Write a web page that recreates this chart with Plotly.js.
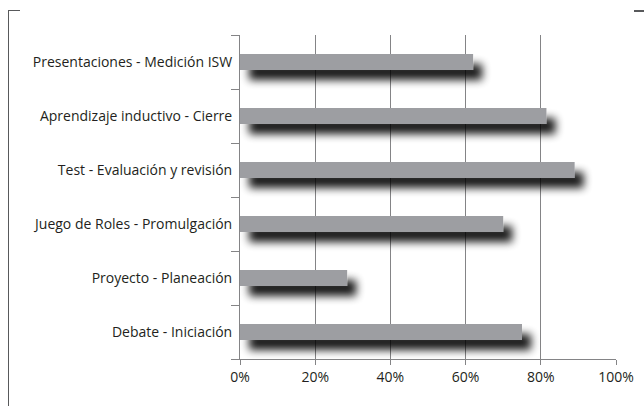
<!DOCTYPE html>
<html>
<head>
<meta charset="utf-8">
<script src="https://cdn.plot.ly/plotly-3.0.1.min.js"></script>
<style>
  html, body { margin: 0; padding: 0; background: #fff; overflow: hidden; }
  #wrap { position: relative; width: 644px; height: 406px; overflow: hidden; }
  #chart { position: absolute; left: 0; top: 0; width: 644px; height: 406px; }
  .frame { position: absolute; background: #58595b; z-index: 5; }
</style>
</head>
<body>
<svg width="0" height="0" style="position:absolute;left:0;top:0">
  <defs>
    <filter id="barShadow" filterUnits="userSpaceOnUse" x="-50" y="-50" width="800" height="500">
      <feGaussianBlur in="SourceAlpha" stdDeviation="4.5" result="blur"/>
      <feOffset in="blur" dx="9" dy="10" result="off"/>
      <feComponentTransfer in="off" result="shadow">
        <feFuncA type="linear" slope="0.9"/>
      </feComponentTransfer>
      <feMerge>
        <feMergeNode in="shadow"/>
        <feMergeNode in="SourceGraphic"/>
      </feMerge>
    </filter>
  </defs>
</svg>
<div id="wrap">
  <div id="chart"></div>
  <div class="frame" style="left:8px;top:10px;width:1px;height:400px;"></div>
  <div class="frame" style="left:8px;top:10px;width:12px;height:1px;"></div>
  <div class="frame" style="left:634px;top:10px;width:10px;height:2px;"></div>
</div>
<script>
const categories = [
  "Debate - Iniciación",
  "Proyecto - Planeación",
  "Juego de Roles - Promulgación",
  "Test - Evaluación y revisión",
  "Aprendizaje inductivo - Cierre",
  "Presentaciones - Medición ISW"
];
const percentValues = [75, 28.5, 70, 89, 81.5, 62];
const xTickValues = [0, 20, 40, 60, 80, 100];
const xTickLabels = ["0%", "20%", "40%", "60%", "80%", "100%"];

const trace = {
  type: "bar",
  orientation: "h",
  y: categories,
  x: percentValues,
  width: 0.3,
  marker: { color: "#9d9ea2", line: { width: 0 } },
  hoverinfo: "none"
};

const axisGrey = "#848486";
const layout = {
  width: 644,
  height: 406,
  margin: { l: 240, r: 28, t: 35, b: 47 },
  paper_bgcolor: "rgba(0,0,0,0)",
  plot_bgcolor: "rgba(0,0,0,0)",
  showlegend: false,
  font: { family: "Open Sans, sans-serif", size: 14, color: "#231f20" },
  xaxis: {
    range: [0, 100],
    tickvals: xTickValues,
    ticktext: xTickLabels,
    showgrid: true,
    gridcolor: axisGrey,
    gridwidth: 1,
    zeroline: false,
    showline: true,
    linecolor: axisGrey,
    linewidth: 1,
    ticks: "outside",
    ticklen: 5,
    tickcolor: axisGrey,
    tickfont: { size: 14, color: "#231f20" },
    fixedrange: true
  },
  yaxis: {
    type: "category",
    categoryorder: "array",
    categoryarray: categories,
    showgrid: false,
    zeroline: false,
    showline: true,
    linecolor: axisGrey,
    linewidth: 1,
    ticks: "outside",
    tickson: "boundaries",
    ticklen: 8,
    tickcolor: axisGrey,
    ticklabelstandoff: 4,
    tickfont: { size: 14, color: "#231f20" },
    fixedrange: true
  }
};

Plotly.newPlot("chart", [trace], layout, { displayModeBar: false, staticPlot: true }).then(function (gd) {
  gd.querySelectorAll(".barlayer .point path").forEach(function (p) {
    p.setAttribute("filter", "url(#barShadow)");
  });
});
</script>
</body>
</html>
